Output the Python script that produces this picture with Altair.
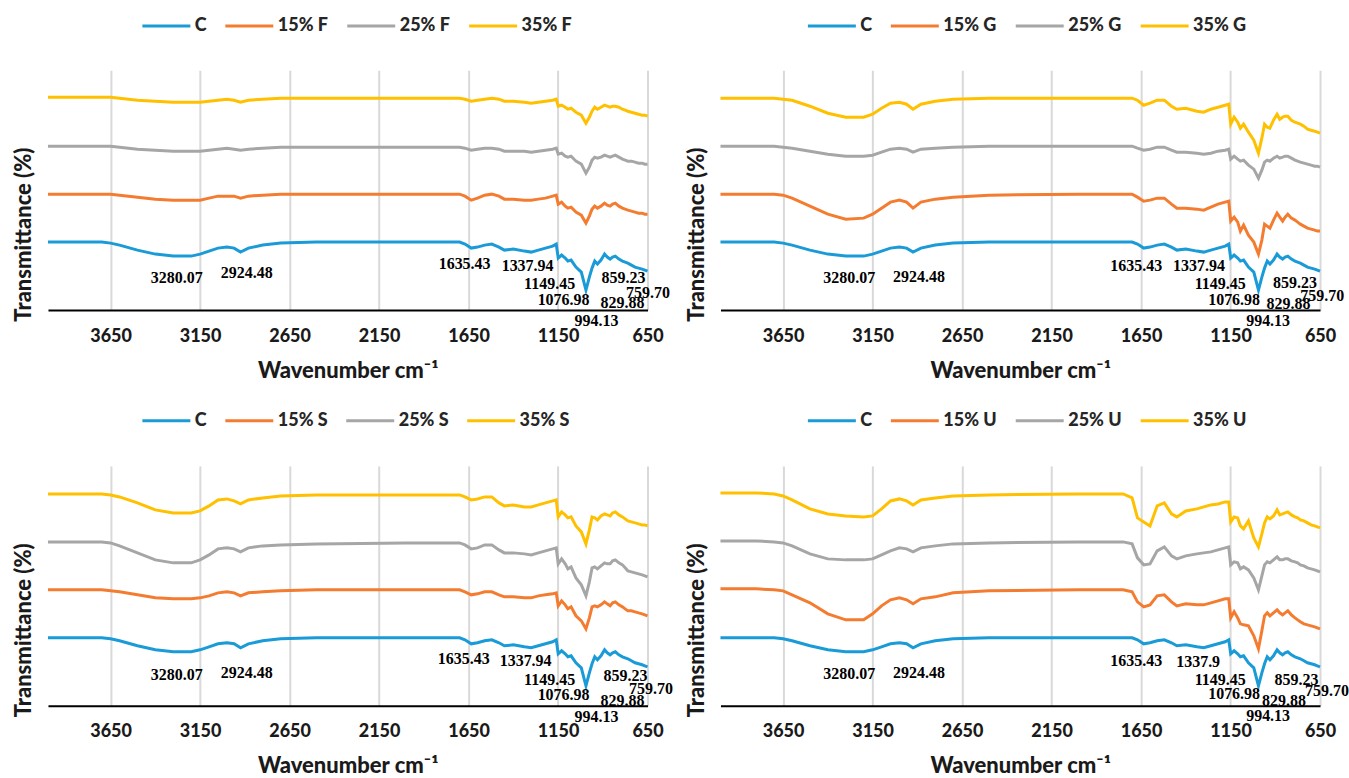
import altair as alt
import pandas as pd

# ---------------- data ----------------
WN = [4000, 3800, 3700, 3650, 3600, 3500, 3400, 3300,
      3200, 3150, 3100, 3050, 3000, 2960, 2924, 2880,
      2800, 2700, 2500, 2000, 1750, 1700, 1670, 1635,
      1600, 1560, 1520, 1480, 1450, 1400, 1338, 1300,
      1260, 1220, 1180, 1160, 1149, 1130, 1110, 1095,
      1077, 1050, 1020, 994, 975, 960, 945, 930,
      910, 890, 875, 859, 845, 830, 810, 790,
      775, 760, 740, 720, 700, 680, 665, 650]

TICKS = [3650, 3150, 2650, 2150, 1650, 1150, 650]

C_VALUES = [68, 68, 68, 67, 65, 60, 56, 54,
            54, 56, 59, 62, 63, 62, 58, 62,
            65, 67, 68, 68, 68, 68, 66, 62,
            63, 65, 66, 63, 60, 61, 59, 58,
            60, 62, 64, 66, 52, 55, 52, 49,
            50, 43, 38, 20, 33, 42, 49, 46,
            50, 56, 53, 51, 53, 54, 51, 49,
            48, 47, 45, 43, 42, 41, 40, 39]

F15 = [116, 116, 116, 116, 115, 113, 111, 110,
       110, 110, 112, 114, 114, 114, 112, 114,
       115, 116, 116, 116, 116, 116, 114, 110,
       112, 115, 116, 114, 111, 111, 110, 110,
       111, 112, 114, 115, 106, 108, 104, 102,
       103, 98, 95, 87, 94, 101, 104, 102,
       104, 107, 105, 104, 106, 107, 104, 102,
       101, 100, 99, 98, 97, 97, 96, 96]
F25 = [164, 164, 164, 164, 163, 161, 160, 159,
       159, 159, 160, 161, 162, 161, 160, 161,
       162, 163, 163, 163, 163, 163, 162, 160,
       161, 162, 162, 161, 159, 159, 159, 158,
       159, 160, 161, 162, 156, 157, 154, 153,
       154, 149, 146, 137, 143, 150, 153, 152,
       153, 155, 154, 153, 154, 155, 153, 151,
       150, 149, 149, 148, 147, 147, 146, 146]
F35 = [213, 213, 213, 213, 212, 210, 209, 208,
       208, 208, 209, 210, 211, 210, 208, 210,
       211, 212, 212, 212, 212, 212, 211, 209,
       210, 211, 212, 211, 209, 209, 208, 207,
       208, 209, 210, 211, 204, 205, 203, 201,
       202, 198, 195, 187, 193, 199, 203, 201,
       203, 205, 204, 203, 204, 204, 203, 201,
       200, 199, 198, 197, 196, 195, 195, 194]

G15 = [116, 116, 116, 115, 112, 104, 96, 91,
       92, 96, 102, 108, 110, 108, 102, 108,
       111, 113, 115, 116, 116, 116, 113, 109,
       110, 112, 112, 106, 102, 102, 101, 100,
       103, 106, 108, 109, 89, 93, 88, 79,
       85, 75, 68, 56, 70, 86, 84, 82,
       90, 97, 93, 89, 93, 96, 92, 90,
       88, 86, 84, 82, 81, 80, 79, 79]
G25 = [164, 164, 164, 163, 162, 159, 156, 154,
       154, 155, 158, 161, 162, 161, 158, 161,
       162, 163, 164, 164, 164, 164, 162, 160,
       161, 163, 163, 160, 158, 158, 157, 156,
       157, 159, 160, 161, 151, 154, 151, 149,
       150, 145, 141, 132, 140, 148, 150, 149,
       152, 154, 152, 153, 154, 154, 152, 150,
       149, 148, 147, 146, 145, 144, 144, 143]
G35 = [212, 212, 212, 211, 210, 204, 197, 193,
       193, 196, 202, 207, 208, 206, 201, 206,
       209, 211, 212, 212, 212, 212, 210, 205,
       207, 210, 210, 204, 201, 202, 199, 198,
       201, 203, 205, 206, 186, 193, 188, 182,
       186, 178, 170, 157, 172, 186, 183, 182,
       190, 196, 191, 193, 194, 194, 190, 188,
       187, 186, 184, 181, 180, 179, 178, 177]

S15 = [116, 116, 116, 115, 114, 111, 108, 107,
       107, 108, 110, 113, 114, 113, 110, 113,
       114, 115, 116, 116, 116, 116, 114, 111,
       112, 114, 114, 111, 109, 109, 108, 108,
       110, 111, 112, 113, 100, 105, 101, 97,
       99, 90, 85, 77, 88, 99, 100, 99,
       101, 104, 102, 100, 103, 104, 101, 99,
       97, 95, 95, 94, 93, 92, 91, 90]
S25 = [164, 164, 164, 163, 160, 153, 146, 143,
       143, 146, 151, 157, 158, 157, 154, 158,
       160, 161, 162, 163, 163, 163, 161, 157,
       158, 161, 161, 156, 153, 153, 152, 151,
       153, 155, 157, 158, 142, 147, 142, 137,
       139, 128, 121, 110, 124, 138, 139, 137,
       140, 143, 142, 142, 145, 146, 143, 141,
       138, 135, 134, 133, 132, 131, 130, 129]
S35 = [212, 212, 212, 211, 209, 203, 196, 193,
       193, 195, 200, 206, 207, 205, 202, 206,
       208, 210, 211, 211, 211, 211, 209, 206,
       207, 209, 209, 203, 200, 201, 199, 199,
       201, 203, 205, 206, 189, 194, 191, 188,
       189, 180, 174, 162, 176, 189, 188, 186,
       190, 192, 191, 190, 193, 194, 191, 189,
       187, 185, 184, 183, 182, 181, 181, 180]

U15 = [117, 117, 116, 115, 111, 103, 92, 86,
       86, 92, 100, 106, 108, 106, 102, 107,
       109, 113, 115, 116, 116, 114, 104, 99,
       101, 110, 111, 104, 100, 102, 101, 101,
       103, 105, 107, 107, 88, 94, 88, 82,
       81, 80, 70, 57, 75, 90, 93, 90,
       93, 96, 93, 91, 93, 95, 91, 88,
       86, 84, 82, 81, 80, 79, 78, 77]
U25 = [165, 165, 164, 163, 160, 152, 147, 146,
       146, 147, 151, 155, 158, 157, 154, 158,
       160, 162, 163, 164, 164, 162, 148, 141,
       142, 155, 159, 150, 147, 150, 152, 153,
       154, 156, 158, 159, 141, 144, 143, 137,
       139, 136, 128, 116, 130, 141, 144, 143,
       146, 149, 146, 146, 147, 147, 145, 144,
       143, 141, 140, 138, 137, 136, 135, 134]
U35 = [213, 213, 212, 210, 206, 197, 192, 190,
       189, 190, 197, 205, 207, 205, 201, 206,
       208, 210, 211, 212, 212, 208, 188, 184,
       180, 200, 203, 192, 189, 195, 197, 199,
       201, 202, 204, 204, 184, 189, 188, 180,
       177, 185, 168, 159, 172, 183, 189, 187,
       190, 196, 191, 192, 193, 194, 191, 189,
       188, 186, 185, 183, 181, 180, 179, 178]

# peak labels: text, wavenumber position, height position
LABELS_STD = ["3280.07", "2924.48", "1635.43", "1337.94", "1149.45",
              "1076.98", "994.13", "859.23", "829.88", "759.70"]
LABELS_U = ["3280.07", "2924.48", "1635.43", "1337.9", "1149.45",
            "1076.98", "994.13", "859.23", "829.88", "759.70"]
LAB_WN_F = [3280, 2889, 1672, 1320, 1197, 1119, 935, 784, 790, 647]
LAB_T_F = [32, 37, 46, 44, 26, 10, -11, 32, 7, 17]
LAB_WN_G = [3280, 2891, 1677, 1326, 1208, 1130, 940, 790, 826, 638]
LAB_T_G = [32, 33, 44, 44, 26, 10, -11, 27, 6, 14]
LAB_WN_S = [3280, 2889, 1677, 1331, 1197, 1119, 935, 773, 790, 631]
LAB_T_S = [31, 33, 47, 45, 26, 11, -11, 30, 5, 17]
LAB_WN_U = [3280, 2891, 1677, 1331, 1208, 1130, 940, 781, 851, 611]
LAB_T_U = [32, 33, 45, 44, 26, 12, -10, 26, 5, 15]

COLORS = ["#1A9BD7", "#F47C30", "#A6A6A6", "#FFC000"]
FONT = "Lato"


def panel(letter, series_vals, lab_text, lab_wn, lab_t, legend_x, legend_y):
    names = ["C", "15% " + letter, "25% " + letter, "35% " + letter]
    rows = []
    for name, vals in zip(names, series_vals):
        for w, v in zip(WN, vals):
            rows.append({"wn": w, "t": v, "series": name})
    df = pd.DataFrame(rows)
    lab = pd.DataFrame({"wn": lab_wn, "t": lab_t, "label": lab_text})

    x = alt.X("wn:Q",
              scale=alt.Scale(domain=[650, 4000], reverse=True, nice=False, zero=False),
              axis=alt.Axis(values=TICKS, title="Wavenumber cm⁻¹", grid=True,
                            gridColor="#d9d9d9", gridWidth=2, ticks=False,
                            domainColor="#000000", domainWidth=2, labelFlush=False,
                            labelOverlap=False, labelPadding=17, titlePadding=15,
                            format="d"))
    y = alt.Y("t:Q",
              scale=alt.Scale(domain=[0, 240], nice=False, zero=False),
              axis=alt.Axis(title="Transmittance (%)", labels=False, ticks=False,
                            domain=False, grid=False, titlePadding=12, titleY=164))

    lines = alt.Chart(df).mark_line(strokeWidth=3).encode(
        x=x, y=y,
        color=alt.Color("series:N",
                        scale=alt.Scale(domain=names, range=COLORS),
                        legend=alt.Legend(title=None, orient="none", legendX=legend_x,
                                          legendY=legend_y, direction="horizontal",
                                          columns=4, symbolType="stroke",
                                          symbolSize=2304, symbolStrokeWidth=3,
                                          labelFont=FONT, labelFontSize=18,
                                          labelFontWeight=900, labelColor="#262626",
                                          columnPadding=12, labelOffset=3, padding=0)),
    )
    texts = alt.Chart(lab).mark_text(font="Liberation Serif", fontWeight="bold",
                                     fontSize=16, color="#000000").encode(
        x=x, y=y, text="label:N")
    return alt.layer(lines, texts).properties(width=600, height=240)


tl = panel("F", [C_VALUES, F15, F25, F35], LABELS_STD, LAB_WN_F, LAB_T_F, 93, -70)
tr = panel("G", [C_VALUES, G15, G25, G35], LABELS_STD, LAB_WN_G, LAB_T_G, 86, -70)
bl = panel("S", [C_VALUES, S15, S25, S35], LABELS_STD, LAB_WN_S, LAB_T_S, 93, -71)
br = panel("U", [C_VALUES, U15, U25, U35], LABELS_U, LAB_WN_U, LAB_T_U, 86, -71)

chart = alt.concat(tl, tr, bl, br, columns=2,
                   spacing={"row": 156, "column": 73}, bounds="flush").resolve_scale(
    x="independent", y="independent", color="independent").resolve_axis(
    x="independent", y="independent").resolve_legend(color="independent").properties(
    padding={"left": 13, "top": 0, "right": 0, "bottom": 0}, background="white"
).configure_view(stroke=None).configure_axis(
    labelFont=FONT, labelFontSize=18, labelFontWeight=900, labelColor="#1a1a1a",
    titleFont=FONT, titleFontSize=22, titleFontWeight=900, titleColor="#1a1a1a")

chart.save("out.html", embed_options={"renderer": "svg", "actions": False})
